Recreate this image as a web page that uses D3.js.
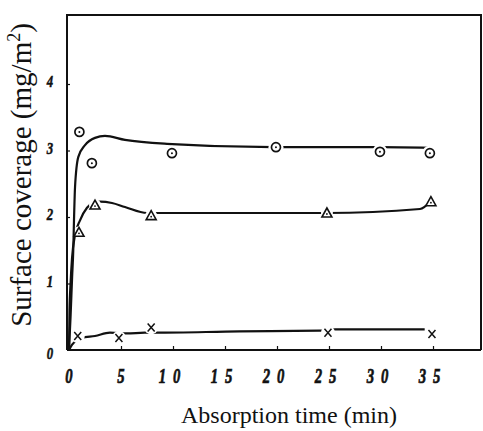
<!DOCTYPE html>
<html>
<head>
<meta charset="utf-8">
<script src="https://cdn.jsdelivr.net/npm/d3@7"></script>
</head>
<body style="margin:0">
<script>
// measured points (time in min, coverage in mg/m2)
var circleTime = [1.0, 2.2, 9.9, 19.9, 29.9, 34.7];
var circleValue = [3.28, 2.81, 2.96, 3.05, 2.98, 2.96];
var triangleTime = [0.96, 2.5, 7.9, 24.8, 34.8];
var triangleValue = [1.77, 2.18, 2.02, 2.06, 2.23];
var crossTime = [0.84, 4.8, 7.9, 24.9, 34.9];
var crossValue = [0.21, 0.18, 0.34, 0.26, 0.24];

// hand drawn fitting curves
var circleCurveTime = [0, 0.15, 0.3, 0.41, 0.48, 0.58, 0.89, 1.54, 2.5, 3.46, 5.38, 9.42, 19.6, 29.9, 34.7];
var circleCurveValue = [0, 0.5, 1.1, 1.5, 1.95, 2.45, 2.9, 3.08, 3.19, 3.22, 3.16, 3.1, 3.05, 3.05, 3.04];
var triangleCurveTime = [0, 0.05, 0.15, 0.29, 0.58, 1.06, 1.73, 2.31, 2.98, 4.13, 5.38, 7.5, 16.4, 24.7, 33.75, 34.8];
var triangleCurveValue = [0, 0.6, 1.0, 1.38, 1.73, 1.95, 2.14, 2.21, 2.23, 2.21, 2.15, 2.06, 2.06, 2.06, 2.12, 2.24];
var crossCurveTime = [0, 0.3, 0.74, 1.22, 2.5, 3.94, 5.55, 7.3, 8.3, 16.4, 24.1, 25.6, 34.2];
var crossCurveValue = [0, 0.08, 0.15, 0.18, 0.21, 0.26, 0.25, 0.26, 0.26, 0.28, 0.29, 0.31, 0.31];

var xTicks = [0, 5, 10, 15, 20, 25, 30, 35];
var yTicks = [0, 1, 2, 3, 4];

var width = 483,
    height = 431;

var serif = "Liberation Serif";
var ink = "#111";

var svg = d3.select("body")
    .append("svg")
    .attr("width", width)
    .attr("height", height)
    .attr("font-family", serif);

// axis titles
svg.append("text")
    .attr("x", 289)
    .attr("y", 423)
    .attr("text-anchor", "middle")
    .attr("font-family", serif)
    .attr("font-size", 24)
    .attr("fill", ink)
    .text("Absorption time (min)");

var yTitle = svg.append("text")
    .attr("transform", "translate(31,175) rotate(-90)")
    .attr("text-anchor", "middle")
    .attr("font-family", serif)
    .attr("font-size", 29)
    .attr("fill", ink);
yTitle.append("tspan").text("Surface coverage (mg/m");
yTitle.append("tspan").attr("dy", -11).attr("font-size", 18).text("2");
yTitle.append("tspan").attr("dy", 11).text(")");

// scales
var x = d3.scaleLinear().domain([0, 35]).range([69, 433]);
var y = d3.scaleLinear().domain([0, 4]).range([350, 84]);

var frameLeft = 67, frameRight = 481, frameTop = 15, frameBottom = 350;

// frame
svg.append("path")
    .attr("d", "M" + frameLeft + "," + frameBottom + "V" + frameTop + "H" + frameRight + "V" + frameBottom)
    .attr("fill", "none")
    .attr("stroke", ink)
    .attr("stroke-width", 2);

// x axis with inward ticks
var xAxis = svg.append("g")
    .attr("transform", "translate(0," + frameBottom + ")")
    .call(d3.axisTop(x).tickValues(xTicks).tickSize(4).tickFormat(""));
xAxis.select(".domain").remove();
xAxis.selectAll("line").attr("stroke", ink).attr("stroke-width", 1.2);
svg.append("line")
    .attr("x1", frameLeft).attr("x2", frameRight)
    .attr("y1", frameBottom).attr("y2", frameBottom)
    .attr("stroke", ink)
    .attr("stroke-width", 2);

var yAxis = svg.append("g")
    .attr("transform", "translate(" + frameLeft + ",0)")
    .call(d3.axisRight(y).tickValues(yTicks.slice(1)).tickSize(3).tickFormat(""));
yAxis.select(".domain").remove();
yAxis.selectAll("line").attr("stroke", ink).attr("stroke-width", 1.2);

// tick labels: narrow, heavy bold italic digits
svg.selectAll(".xlab")
    .data(xTicks)
    .enter()
    .append("text")
    .attr("class", "xlab")
    .attr("transform", function (d) {
        return "translate(" + x(d) + ",383) scale(0.7,1)";
    })
    .attr("text-anchor", "middle")
    .attr("font-family", serif)
    .attr("font-style", "italic")
    .attr("font-weight", "bold")
    .attr("font-size", 21)
    .attr("fill", ink)
    .attr("stroke", ink)
    .attr("stroke-width", 0.7)
    .text(function (d) { return d; })
    .each(function (d) {
        if (d >= 10) {
            var t = d3.select(this);
            var s = String(d);
            t.text("");
            t.append("tspan").attr("dx", -5).text(s[0]);
            t.append("tspan").attr("dx", 10).text(s[1]);
        }
    });

svg.selectAll(".ylab")
    .data(yTicks)
    .enter()
    .append("text")
    .attr("class", "ylab")
    .attr("transform", function (d) {
        return "translate(50," + (y(d) + (d === 0 ? 9 : 3)) + ") scale(0.75,1)";
    })
    .attr("text-anchor", "middle")
    .attr("font-family", serif)
    .attr("font-style", "italic")
    .attr("font-weight", "bold")
    .attr("font-size", 17)
    .attr("fill", ink)
    .attr("stroke", ink)
    .attr("stroke-width", 0.5)
    .text(function (d) { return d; });

var line = d3.line()
    .curve(d3.curveMonotoneX)
    .x(function (d) { return x(d[0]); })
    .y(function (d) { return y(d[1]); });

function zip(a, b) {
    return a.map(function (v, i) { return [v, b[i]]; });
}

// one series: curve, white gaps round the markers, markers
function drawSeries(curveT, curveV, ptT, ptV, shape, gap) {
    var g = svg.append("g");
    g.append("path")
        .datum(zip(curveT, curveV))
        .attr("fill", "none")
        .attr("stroke", ink)
        .attr("stroke-width", 2.2)
        .attr("d", line);

    var pts = zip(ptT, ptV);
    g.selectAll(".gap")
        .data(pts)
        .enter()
        .append("circle")
        .attr("cx", function (d) { return x(d[0]); })
        .attr("cy", function (d) { return y(d[1]); })
        .attr("r", gap)
        .attr("fill", "#fff");

    var m = g.selectAll(".mark")
        .data(pts)
        .enter()
        .append("g")
        .attr("transform", function (d) {
            return "translate(" + x(d[0]) + "," + y(d[1]) + ")";
        });

    if (shape === "circle") {
        m.append("circle").attr("r", 4.5).attr("fill", "#fff")
            .attr("stroke", ink).attr("stroke-width", 1.7);
        m.append("circle").attr("r", 1).attr("fill", ink);
    } else if (shape === "triangle") {
        m.append("path").attr("d", "M0,-5L5,4H-5Z").attr("fill", "#fff")
            .attr("stroke", ink).attr("stroke-width", 1.6);
        m.append("circle").attr("cy", 1).attr("r", 0.9).attr("fill", ink);
    } else {
        m.append("path").attr("d", "M-3.5,-4L3.5,4M3.5,-4L-3.5,4")
            .attr("stroke", ink).attr("stroke-width", 1.5);
    }
}

drawSeries(crossCurveTime, crossCurveValue, crossTime, crossValue, "cross", 7);
drawSeries(triangleCurveTime, triangleCurveValue, triangleTime, triangleValue, "triangle", 6);
drawSeries(circleCurveTime, circleCurveValue, circleTime, circleValue, "circle", 7.5);
</script>
</body>
</html>
